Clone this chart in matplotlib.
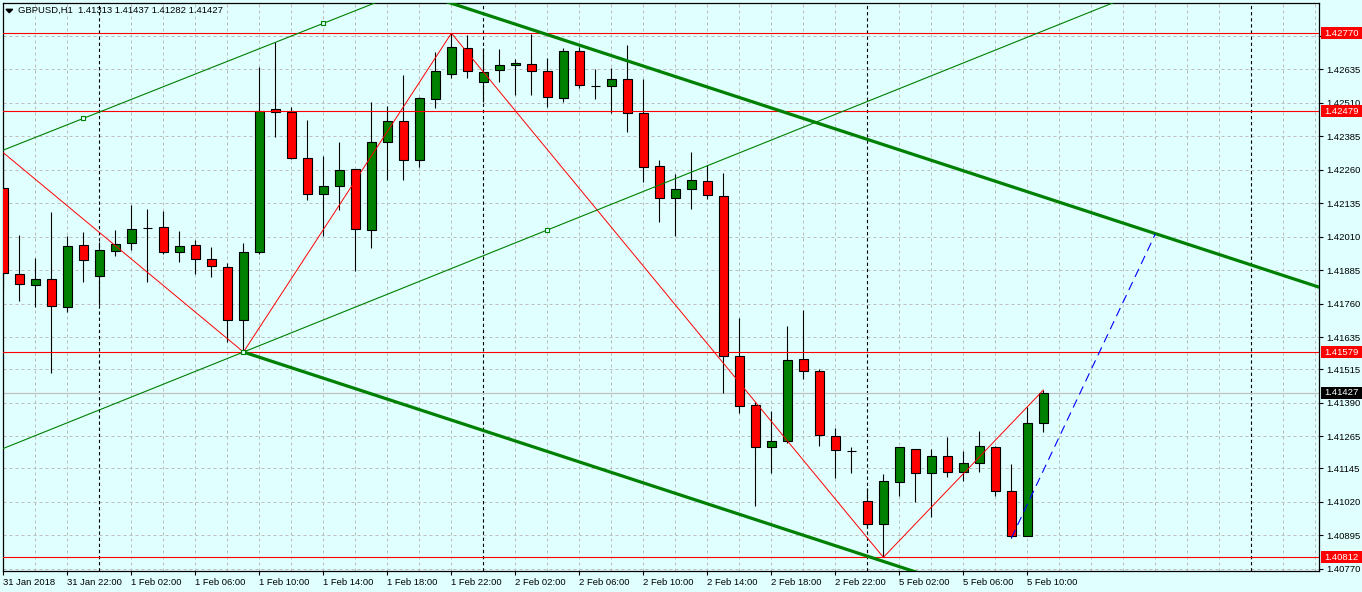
import numpy as np
import matplotlib.pyplot as plt
from matplotlib.transforms import blended_transform_factory
from matplotlib.patches import Polygon, Rectangle


# GBPUSD H1, one bar per hour, starting 31 Jan 2018 18:00
opens = [1.42193, 1.41870, 1.41828, 1.41851, 1.41746, 1.41978, 1.41862, 1.41957, 1.41985, 1.42043,
         1.42045, 1.41952, 1.41978, 1.41926, 1.41896, 1.41698, 1.41952, 1.42486, 1.42477, 1.42303,
         1.42168, 1.42198, 1.42262, 1.42034, 1.42363, 1.42441, 1.42295, 1.42523, 1.42618, 1.42714,
         1.42587, 1.42632, 1.42650, 1.42654, 1.42628, 1.42529, 1.42703, 1.42574, 1.42572, 1.42598,
         1.42471, 1.42273, 1.42154, 1.42187, 1.42217, 1.42161, 1.41563, 1.41380, 1.41223, 1.41245,
         1.41552, 1.41507, 1.41264, 1.41210, 1.41021, 1.40935, 1.41092, 1.41218, 1.41126, 1.41189,
         1.41130, 1.41163, 1.41223, 1.41059, 1.40891, 1.41313]
highs = [1.42323, 1.42016, 1.41932, 1.42103, 1.42013, 1.42028, 1.41990, 1.42035, 1.42128, 1.42114,
         1.42106, 1.42032, 1.41998, 1.41972, 1.41911, 1.41985, 1.42643, 1.42739, 1.42496, 1.42446,
         1.42312, 1.42364, 1.42262, 1.42513, 1.42498, 1.42614, 1.42533, 1.42699, 1.42770, 1.42765,
         1.42714, 1.42710, 1.42673, 1.42766, 1.42677, 1.42714, 1.42718, 1.42636, 1.42639, 1.42726,
         1.42599, 1.42297, 1.42244, 1.42325, 1.42277, 1.42248, 1.41706, 1.41392, 1.41360, 1.41677,
         1.41736, 1.41514, 1.41295, 1.41225, 1.41070, 1.41124, 1.41223, 1.41218, 1.41216, 1.41262,
         1.41208, 1.41283, 1.41227, 1.41160, 1.41373, 1.41437]
lows = [1.41811, 1.41771, 1.41746, 1.41500, 1.41728, 1.41842, 1.41755, 1.41939, 1.41960, 1.41842,
        1.41945, 1.41917, 1.41871, 1.41861, 1.41615, 1.41579, 1.41945, 1.42381, 1.42300, 1.42147,
        1.42013, 1.42110, 1.41882, 1.41969, 1.42222, 1.42222, 1.42272, 1.42492, 1.42604, 1.42604,
        1.42514, 1.42589, 1.42541, 1.42541, 1.42496, 1.42514, 1.42567, 1.42526, 1.42473, 1.42400,
        1.42216, 1.42066, 1.42014, 1.42112, 1.42152, 1.41425, 1.41352, 1.41005, 1.41128, 1.41240,
        1.41477, 1.41229, 1.41109, 1.41126, 1.40920, 1.40812, 1.41042, 1.41020, 1.40964, 1.41113,
        1.41098, 1.41132, 1.41042, 1.40884, 1.40891, 1.41282]
closes = [1.41873, 1.41832, 1.41851, 1.41751, 1.41974, 1.41922, 1.41959, 1.41982, 1.42038, 1.42042,
          1.41952, 1.41974, 1.41926, 1.41899, 1.41698, 1.41952, 1.42479, 1.42475, 1.42303, 1.42168,
          1.42198, 1.42258, 1.42038, 1.42363, 1.42441, 1.42295, 1.42527, 1.42628, 1.42718, 1.42628,
          1.42624, 1.42650, 1.42658, 1.42628, 1.42531, 1.42703, 1.42576, 1.42573, 1.42598, 1.42471,
          1.42269, 1.42154, 1.42187, 1.42221, 1.42165, 1.41563, 1.41376, 1.41223, 1.41245, 1.41548,
          1.41507, 1.41268, 1.41212, 1.41209, 1.40935, 1.41096, 1.41223, 1.41126, 1.41189, 1.41130,
          1.41163, 1.41227, 1.41059, 1.40891, 1.41313, 1.41427]

x_labels = ["31 Jan 2018", "31 Jan 22:00", "1 Feb 02:00", "1 Feb 06:00", "1 Feb 10:00",
            "1 Feb 14:00", "1 Feb 18:00", "1 Feb 22:00", "2 Feb 02:00", "2 Feb 06:00",
            "2 Feb 10:00", "2 Feb 14:00", "2 Feb 18:00", "2 Feb 22:00", "5 Feb 02:00",
            "5 Feb 06:00", "5 Feb 10:00"]
price_ticks = [1.42760, 1.42635, 1.42510, 1.42385, 1.42260, 1.42135, 1.42010, 1.41885, 1.41760,
               1.41635, 1.41515, 1.41390, 1.41265, 1.41145, 1.41020, 1.40895, 1.40770]
levels = [1.42770, 1.42479, 1.41579, 1.40812]   # red horizontal lines
bid = 1.41427
day_starts = [6, 30, 54, 78]  # midnight bars (period separators)

# zigzag pivots
zz_bars = [0, 15, 28, 55, 65]
zz_prices = [1.42323, 1.41579, 1.42770, 1.40812, 1.41437]

# thin green channel: anchor points (bar, price)
ch_mid = [(15, 1.41579), (34, 1.42035)]
ch_up = [(5, 1.42452), (20, 1.42807)]

# thick green channel
tk_low = [(15, 1.41579), (82.3, 1.40263)]
tk_up = [(15, 1.43136), (82.3, 1.41820)]

# blue projection
proj = [(63, 1.40884), (72, 1.42020)]

bg = '#E0FFFF'
green = '#008000'
red = '#FF0000'
W, H = 1362, 592
fs = 6.8

fig = plt.figure(figsize=(W / 100, H / 100), dpi=100, facecolor=bg)
plt.rcParams['font.family'] = ['Liberation Sans', 'DejaVu Sans']
ax = fig.add_axes([2.7 / W, (H - 571) / H, (1319 - 2.7) / W, (571 - 2.7) / H])
ax.set_facecolor(bg)
ax.set_xlim(-0.05, 82.23)
ax.set_ylim(1.40761, 1.42884)

n = len(opens)
x = np.arange(n)
o = np.array(opens)
c = np.array(closes)

# grid
for p in price_ticks:
    ax.axhline(p, color='#BDBDBD', lw=0.72, ls=(0, (3, 3)), zorder=0)
for b in range(0, 84, 2):
    if b not in day_starts:
        ax.axvline(b, color='#BDBDBD', lw=0.72, ls=(0, (3, 3)), zorder=0)
for b in day_starts:
    ax.axvline(b, color='black', lw=0.8, ls=(0, (3, 2.5)), zorder=0.5)

ax.axhline(bid, color='#C0C0C0', lw=0.9, zorder=0.6)

# candles
ax.vlines(x, lows, highs, color='black', lw=0.8, zorder=2)
cols = np.where(c > o, green, red)
ax.bar(x, np.abs(c - o), bottom=np.minimum(o, c), width=0.6, color=cols,
       edgecolor='black', linewidth=0.8, zorder=3)

# horizontal levels
for p in levels:
    ax.axhline(p, color=red, lw=0.8, zorder=4)

# zigzag
ax.plot(zz_bars, zz_prices, color=red, lw=0.7, zorder=5)


def extend(pts, x0=-1, x1=90):
    (a, pa), (b, pb) = pts
    s = (pb - pa) / (b - a)
    return [x0, x1], [pa + s * (x0 - a), pa + s * (x1 - a)]


for pts in (ch_mid, ch_up):
    xs, ys = extend(pts)
    ax.plot(xs, ys, color=green, lw=0.8, zorder=5)
    ax.plot([q[0] for q in pts], [q[1] for q in pts], ls='none', marker='s', ms=3.5,
            mfc=bg, mec=green, mew=0.8, zorder=6)

for pts in (tk_low, tk_up):
    ax.plot([q[0] for q in pts], [q[1] for q in pts], color=green, lw=2.3,
            solid_capstyle='butt', zorder=5)

ax.plot([q[0] for q in proj], [q[1] for q in proj], color='#0000FF', lw=0.8,
        ls=(0, (8, 5)), zorder=5)

# axes styling
for s in ax.spines.values():
    s.set_color('black')
    s.set_linewidth(0.9)
ax.yaxis.tick_right()
ax.set_yticks(price_ticks)
ax.set_yticklabels([f'{p:.5f}' for p in price_ticks])
ax.set_xticks(np.arange(0, 4 * len(x_labels), 4))
ax.set_xticklabels(x_labels, ha='left')
ax.tick_params(axis='both', direction='out', length=3, width=0.8, labelsize=fs,
               colors='black')
ax.tick_params(axis='y', pad=2)
ax.tick_params(axis='x', pad=2)

# price label boxes
tr = blended_transform_factory(fig.transFigure, ax.transData)
pxu = (571 - 2.7) / (1.42884 - 1.40761)
box_h = 12 / pxu
for p, fc in [(q, red) for q in levels] + [(bid, 'black')]:
    ax.add_patch(Rectangle((1321 / W, p - box_h / 2), 41 / W, box_h, transform=tr,
                           facecolor=fc, edgecolor='none', clip_on=False, zorder=10))
    ax.text(1324 / W, p, f'{p:.5f}', transform=tr, color='white', fontsize=fs,
            va='center', ha='left', clip_on=False, zorder=11)

# header
fig.add_artist(Polygon([(6 / W, 1 - 9.3 / H), (12.7 / W, 1 - 9.3 / H), (9.3 / W, 1 - 12.7 / H)],
                       closed=True, transform=fig.transFigure, color='black'))
fig.text(18 / W, 1 - 10.5 / H,
         f'GBPUSD,H1  {opens[-1]:.5f} {highs[-1]:.5f} {lows[-1]:.5f} {closes[-1]:.5f}',
         fontsize=fs, va='center', ha='left', color='black')

fig.savefig('out.png', dpi=100, facecolor=bg)
